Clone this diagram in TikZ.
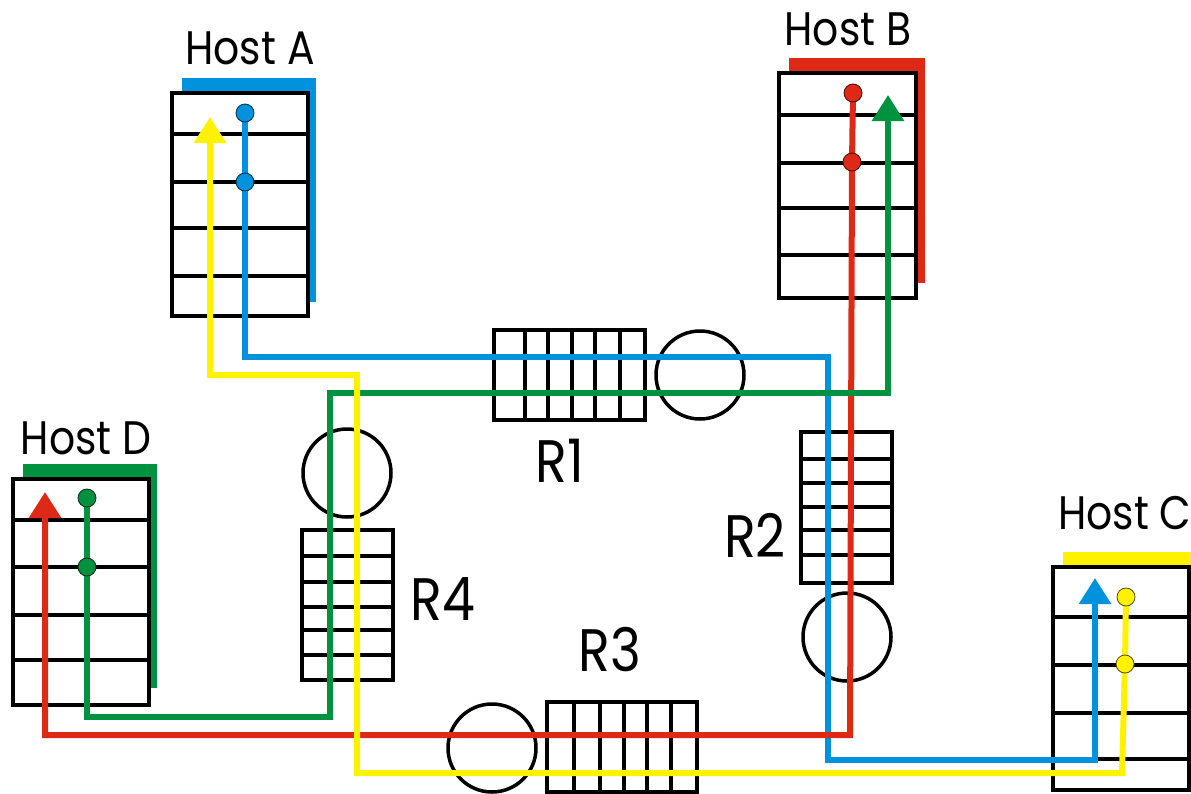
\documentclass[tikz,border=0pt]{standalone}
\usepackage{fontspec}
\setmainfont{Poppins}
\usetikzlibrary{arrows.meta,calc}
\definecolor{cA}{RGB}{0,146,221}
\definecolor{cB}{RGB}{222,41,22}
\definecolor{cC}{RGB}{255,242,0}
\definecolor{cD}{RGB}{0,146,63}
\tikzset{
  hostbox/.style={draw=black, line width=4pt, fill=white, inner sep=0pt, rectangle},
  rowline/.style={draw=black, line width=4pt},
  rtbox/.style={draw=black, line width=4pt, fill=white},
  rtline/.style={draw=black, line width=4pt},
  rcirc/.style={draw=black, line width=3.5pt, circle, inner sep=0pt, minimum size=88pt},
  flow/.style={line width=6pt, line join=miter},
  tipA/.style={-{Triangle[width=31pt,length=26pt]}},
  dot/.style={circle, fill=#1, draw=black!70!#1, line width=0.8pt, minimum size=18pt, inner sep=0pt},
  hlabel/.style={inner sep=0pt, font=\fontsize{47}{50}\selectfont},
  rlabel/.style={inner sep=0pt, font=\fontsize{60}{64}\selectfont},
}
\begin{document}
\begin{tikzpicture}[x=1pt,y=-1pt]
\useasboundingbox (0,0) rectangle (1191,793);
% ---------- hosts ----------
% Host A
\fill[cA] (182,78) rectangle (316,302);
\node[hostbox, minimum width=136pt, minimum height=223pt] (hA) at (240,204.5) {};
\foreach \y in {134,182,228,276} \draw[rowline] (172,\y) -- (308,\y);
\node[hlabel] (lA) at (250,48) {\scalebox{0.87}[1]{Host A}};
% Host B
\fill[cB] (789,58) rectangle (925,283);
\node[hostbox, minimum width=137pt, minimum height=225pt] (hB) at (847.5,185.5) {};
\foreach \y in {115,163,208,255} \draw[rowline] (779,\y) -- (916,\y);
\node[hlabel] (lB) at (848,29) {\scalebox{0.87}[1]{Host B}};
% Host D
\fill[cD] (23,464) rectangle (157,688);
\node[hostbox, minimum width=136pt, minimum height=226pt] (hD) at (81,592) {};
\foreach \y in {520,567,615,660} \draw[rowline] (13,\y) -- (149,\y);
\node[hlabel] (lD) at (86,438) {\scalebox{0.87}[1]{Host D}};
% Host C
\fill[cC] (1063,552) rectangle (1197,776);
\node[hostbox, minimum width=136pt, minimum height=223pt] (hC) at (1121,678.5) {};
\foreach \y in {617,665,713,759} \draw[rowline] (1053,\y) -- (1189,\y);
\node[hlabel, anchor=west] (lC) at (1058,513) {\scalebox{0.87}[1]{Host C}};
% ---------- routers ----------
% R1
\node[rtbox, minimum width=151pt, minimum height=90pt, inner sep=0pt] (R1) at (569.5,375) {};
\foreach \x in {525,548,572,595,620} \draw[rtline] (\x,330) -- (\x,420);
\node[rcirc] (C1) at (700,375) {};
\node[rlabel] (L1) at (560,461) {\scalebox{0.87}[1]{R1}};
% R2
\node[rtbox, minimum width=91pt, minimum height=151pt, inner sep=0pt] (R2) at (846.5,507.5) {};
\foreach \y in {459,483,507,530,555} \draw[rtline] (801,\y) -- (892,\y);
\node[rcirc] (C2) at (847,637) {};
\node[rlabel] (L2) at (755,535) {\scalebox{0.87}[1]{R2}};
% R3
\node[rtbox, minimum width=150pt, minimum height=90pt, inner sep=0pt] (R3) at (622,747) {};
\foreach \x in {574,600,624,647,671} \draw[rtline] (\x,702) -- (\x,792);
\node[rcirc] (C3) at (492,748) {};
\node[rlabel] (L3) at (610,650) {\scalebox{0.87}[1]{R3}};
% R4
\node[rtbox, minimum width=91pt, minimum height=150pt, inner sep=0pt] (R4) at (347.5,605) {};
\foreach \y in {556,582,607,630,655} \draw[rtline] (302,\y) -- (393,\y);
\node[rcirc] (C4) at (347,473) {};
\node[rlabel] (L4) at (443,599) {\scalebox{0.87}[1]{R4}};
% ---------- flows ----------
% blue A -> C
\coordinate (a1) at (245,113);
\coordinate (a2) at (245,182);
\coordinate (ta) at (1095,578);
\draw[flow, cA, tipA] (a1) -- (245,357) -- (828,357) -- (828,760) -- (1095,760) -- (ta);
% red B -> D
\coordinate (b1) at (853,93);
\coordinate (b2) at (852,162);
\coordinate (tb) at (45,492);
\draw[flow, cB, tipA] (b1) -- (852,162) -- (850,735) -- (45,735) -- (tb);
% green D -> B
\coordinate (d1) at (87,498);
\coordinate (d2) at (87,567);
\coordinate (td) at (888,95);
\draw[flow, cD, tipA] (d1) -- (87,717) -- (330,717) -- (330,393) -- (888,393) -- (td);
% yellow C -> A
\coordinate (c1) at (1126,597);
\coordinate (c2) at (1125,664);
\coordinate (tc) at (210,117);
\draw[flow, cC, tipA] (c1) -- (1125,664) -- (1122,773) -- (357,773) -- (357,375) -- (210,375) -- (tc);
% dots
\node[dot=cA] (dA1) at (a1) {};
\node[dot=cA] (dA2) at (a2) {};
\node[dot=cB] (dB1) at (b1) {};
\node[dot=cB] (dB2) at (b2) {};
\node[dot=cD] (dD1) at (d1) {};
\node[dot=cD] (dD2) at (d2) {};
\node[dot=cC] (dC1) at (c1) {};
\node[dot=cC] (dC2) at (c2) {};
\end{tikzpicture}
\end{document}
